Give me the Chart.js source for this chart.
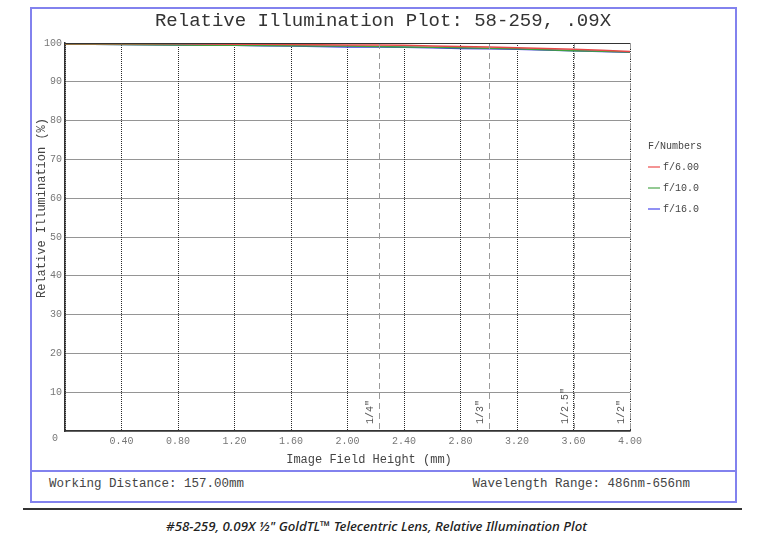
<!DOCTYPE html>
<html>
<head>
<meta charset="utf-8">
<script src="https://cdn.jsdelivr.net/npm/chart.js@4.4.1/dist/chart.umd.min.js"></script>
<style>
  body { margin: 0; background: #fff; width: 765px; height: 540px; position: relative; overflow: hidden; }
  #box { position: absolute; left: 30px; top: 7px; width: 707px; height: 496px; box-sizing: border-box; border: 2px solid #8282ee; }
  #divider { position: absolute; left: 30px; top: 470px; width: 707px; height: 2px; background: #8282ee; }
  #chartCanvas { position: absolute; left: 31px; top: 9px; }
  .foot { position: absolute; top: 477px; font: 12.5px "Liberation Mono", monospace; color: #444; white-space: nowrap; }
  #rule { position: absolute; left: 23px; top: 508px; width: 719px; height: 2px; background: #333; }
  #caption { position: absolute; left: 0; width: 753px; top: 517px; text-align: center; font: italic 500 13.3px "Noto Sans", sans-serif; color: #222; }
</style>
</head>
<body>
<div id="box"></div>
<canvas id="chartCanvas" width="704" height="462"></canvas>
<div id="divider"></div>
<div class="foot" style="left:49px">Working Distance: 157.00mm</div>
<div class="foot" style="right:75px">Wavelength Range: 486nm-656nm</div>
<div id="rule"></div>
<div id="caption">#58-259, 0.09X ½" GoldTL™ Telecentric Lens, Relative Illumination Plot</div>

<script>
// data
const fieldHeight = [0, 0.4, 0.8, 1.2, 1.6, 2.0, 2.4, 2.8, 3.2, 3.6, 4.0];
const f6 = [99.8, 99.8, 99.8, 99.7, 99.6, 99.5, 99.4, 99.1, 98.8, 98.4, 97.8];
const f10 = [99.7, 99.6, 99.5, 99.4, 99.3, 99.2, 99.0, 98.8, 98.5, 98.0, 97.7];
const f16 = [99.7, 99.6, 99.5, 99.4, 99.2, 99.0, 98.9, 98.6, 98.4, 98.0, 97.6];
const seriesNames = ["f/6.00", "f/10.0", "f/16.0"];
const seriesColors = ["#e84848", "#40a040", "#3c3ce0"];
const legendColors = ["#f07070", "#70b870", "#6c6cf0"];

// sensor size marks
const sensorPos = [2.225, 3.0, 3.6, 4.0];
const sensorNames = ['1/4"', '1/3"', '1/2.5"', '1/2"'];

const mono = "'Liberation Mono', 'Courier New', monospace";

function pts(arr) {
    return fieldHeight.map((x, i) => ({ x: x, y: arr[i] }));
}

//extra drawing: title, frame, sensor lines, axis titles, legend
const extras = {
    id: 'extras',
    afterDraw(chart) {
        const c = chart.ctx;
        const a = chart.chartArea;
        const xs = chart.scales.x;

        c.save();
        // title
        c.fillStyle = '#333';
        c.font = '19px ' + mono;
        c.textAlign = 'center';
        c.textBaseline = 'middle';
        c.fillText('Relative Illumination Plot: 58-259, .09X', 352, 12);

        // sensor lines
        c.strokeStyle = '#9a9a9a';
        c.lineWidth = 1;
        c.setLineDash([6, 4]);
        sensorPos.forEach(v => {
            const px = Math.round(xs.getPixelForValue(v)) + 0.5;
            c.beginPath();
            c.moveTo(px, a.top);
            c.lineTo(px, a.bottom);
            c.stroke();
        });
        c.setLineDash([]);
        c.fillStyle = '#555';
        c.font = '10px ' + mono;
        c.textAlign = 'left';
        sensorPos.forEach((v, i) => {
            const px = xs.getPixelForValue(v);
            c.save();
            c.translate(px - 8.5, a.bottom - 7);
            c.rotate(-Math.PI / 2);
            c.fillText(sensorNames[i], 0, 0);
            c.restore();
        });

        // top frame line
        c.strokeStyle = '#333';
        c.beginPath();
        c.moveTo(a.left, Math.round(a.top) + 0.5);
        c.lineTo(a.right, Math.round(a.top) + 0.5);
        c.stroke();

        // origin label
        c.fillStyle = '#777';
        c.textAlign = 'center';
        c.fillText('0', 24, a.bottom + 7);

        // axis titles
        c.fillStyle = '#444';
        c.font = '12px ' + mono;
        c.fillText('Image Field Height (mm)', 338, 451);
        c.save();
        c.translate(11, 199);
        c.rotate(-Math.PI / 2);
        c.fillText('Relative Illumination (%)', 0, 0);
        c.restore();

        // legend
        c.font = '10px ' + mono;
        c.textAlign = 'left';
        c.fillStyle = '#444';
        c.fillText('F/Numbers', 617, 137);
        c.lineWidth = 1.5;
        seriesNames.forEach((n, i) => {
            const y = 158 + i * 21;
            c.strokeStyle = legendColors[i];
            c.beginPath();
            c.moveTo(617, y);
            c.lineTo(629, y);
            c.stroke();
            c.fillText(n, 632, y);
        });
        c.restore();
    }
};

const ctx = document.getElementById('chartCanvas').getContext('2d');

new Chart(ctx, {
    type: 'line',
    data: {
        datasets: [
            { label: seriesNames[0], data: pts(f6), borderColor: seriesColors[0] },
            { label: seriesNames[1], data: pts(f10), borderColor: seriesColors[1] },
            { label: seriesNames[2], data: pts(f16), borderColor: seriesColors[2] }
        ]
    },
    options: {
        responsive: false,
        animation: false,
        datasets: { line: { borderWidth: 1.5, pointRadius: 0, tension: 0.2, fill: false } },
        layout: { padding: { left: 0, right: 105, top: 34, bottom: 0 } },
        plugins: {
            legend: { display: false },
            tooltip: { enabled: false },
            title: { display: false }
        },
        scales: {
            x: {
                type: 'linear',
                min: 0,
                max: 4,
                afterFit: s => { s.height = 40; },
                ticks: {
                    stepSize: 0.4,
                    padding: 4,
                    maxRotation: 0,
                    autoSkip: false,
                    color: '#777',
                    font: { family: mono, size: 10 },
                    callback: v => v === 0 ? '' : Number(v).toFixed(2)
                },
                grid: { color: '#2a2a2a', lineWidth: 1, drawTicks: false },
                border: { display: true, color: '#333', width: 1.5, dash: [1, 1] }
            },
            y: {
                min: 0,
                max: 100,
                afterFit: s => { s.width = 34; },
                ticks: {
                    stepSize: 10,
                    padding: 3,
                    color: '#777',
                    font: { family: mono, size: 10 },
                    callback: v => v === 0 ? '' : v
                },
                grid: { color: '#2a2a2a', lineWidth: 1, drawTicks: false },
                border: { display: true, color: '#333', width: 1.5, dash: [1, 1] }
            }
        }
    },
    plugins: [extras]
});
</script>
</body>
</html>
